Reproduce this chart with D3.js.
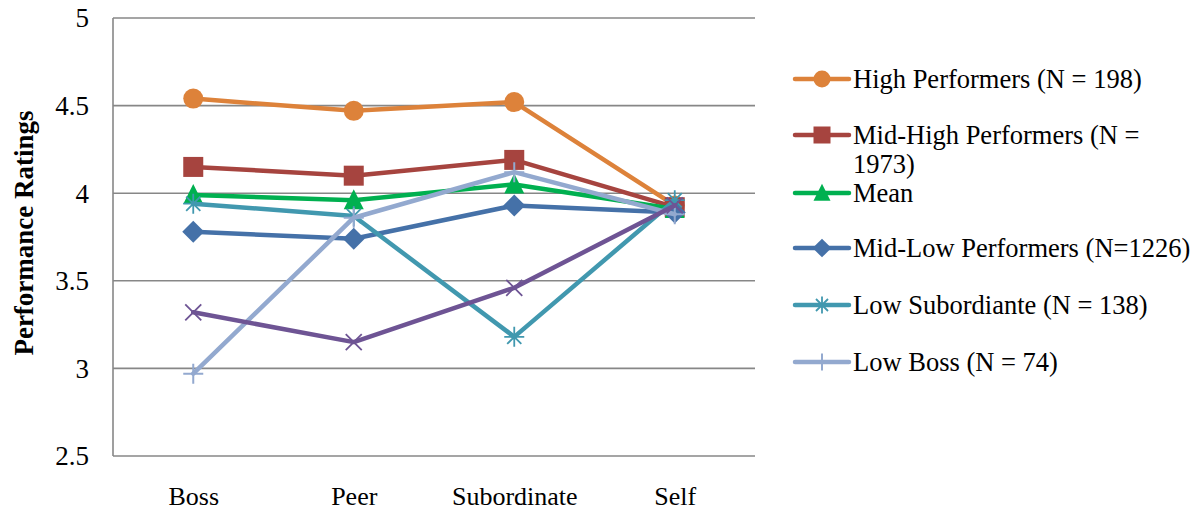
<!DOCTYPE html>
<html><head><meta charset="utf-8">
<script src="https://cdn.jsdelivr.net/npm/d3@7/dist/d3.min.js"></script>
<style>body{margin:0;background:#fff}svg{display:block}</style>
</head><body>
<svg id="c" width="1196" height="510"></svg>
<script>
const categories = ["Boss", "Peer", "Subordinate", "Self"];
const yTicks = [2.5, 3, 3.5, 4, 4.5, 5];
const highPerformers = [4.54, 4.47, 4.52, 3.93];
const midHighPerformers = [4.15, 4.10, 4.19, 3.92];
const meanValues = [3.99, 3.96, 4.05, 3.91];
const midLowPerformers = [3.78, 3.74, 3.93, 3.89];
const lowSubordinate = [3.94, 3.87, 3.18, 3.96];
const lowBoss = [2.97, 3.86, 4.12, 3.88];
const unlabeledSeries = [3.32, 3.15, 3.46, 3.93];

const series = [
  {name: "High Performers (N = 198)", lines: ["High Performers (N = 198)"], values: highPerformers, color: "#DD823A", marker: "circle", legend: true},
  {name: "Mid-High Performers (N = 1973)", lines: ["Mid-High Performers (N =", "1973)"], values: midHighPerformers, color: "#A6443F", marker: "square", legend: true},
  {name: "Mean", lines: ["Mean"], values: meanValues, color: "#00B050", marker: "triangle", legend: true},
  {name: "Mid-Low Performers (N=1226)", lines: ["Mid-Low Performers (N=1226)"], values: midLowPerformers, color: "#4571A8", marker: "diamond", legend: true},
  {name: "Low Subordiante (N = 138)", lines: ["Low Subordiante (N = 138)"], values: lowSubordinate, color: "#4198AF", marker: "star", legend: true},
  {name: "Low Boss (N = 74)", lines: ["Low Boss (N = 74)"], values: lowBoss, color: "#93A9CF", marker: "plus", legend: true},
  {name: "", lines: [], values: unlabeledSeries, color: "#6E5494", marker: "x", legend: false}
];

const svg = d3.select("#c");
const L = 113, R = 755, T = 18, B = 456;
const x = d3.scalePoint().domain(categories).range([L, R]).padding(0.5);
const y = d3.scaleLinear().domain([2.5, 5]).range([B, T]);
const font = "'Liberation Serif', 'Times New Roman', 'DejaVu Serif', serif";

// gridlines
svg.append("g").selectAll("line").data(yTicks).join("line")
  .attr("x1", L).attr("x2", R).attr("y1", d => y(d)).attr("y2", d => y(d))
  .attr("stroke", "#878787").attr("stroke-width", 1.6);
// left axis line
svg.append("line").attr("x1", L).attr("x2", L).attr("y1", T).attr("y2", B)
  .attr("stroke", "#878787").attr("stroke-width", 1.6);

// y axis labels
const yAxis = d3.axisLeft(y).tickValues(yTicks).tickSize(0).tickPadding(0).tickFormat(d3.format("~g"));
const ga = svg.append("g").attr("transform", `translate(${89},0)`).call(yAxis);
ga.select(".domain").remove();
ga.attr("font-family", null).attr("font-size", null);
ga.selectAll("text").style("font-family", font).style("font-size", "27px").attr("fill", "#000").attr("dy", "0.33em");

// x axis labels
const xAxis = d3.axisBottom(x).tickSize(0).tickPadding(0);
const gx = svg.append("g").attr("transform", `translate(0,${505})`).call(xAxis);
gx.select(".domain").remove();
gx.attr("font-family", null).attr("font-size", null);
gx.selectAll("text").style("font-family", font).style("font-size", "26px").attr("fill", "#000").attr("y", 0).attr("dy", "0");

// axis title
svg.append("text").attr("transform", `translate(33,${233}) rotate(-90)`)
  .attr("text-anchor", "middle").style("font-family", font).style("font-size", "27px")
  .attr("font-weight", "bold").text("Performance Ratings");

function drawMarker(g, type, color, cx, cy, s) {
  s = s || 1;
  if (type === "circle") g.append("circle").attr("cx", cx).attr("cy", cy).attr("r", 10*s).attr("fill", color);
  else if (type === "square") g.append("rect").attr("x", cx-10*s).attr("y", cy-10*s).attr("width", 20*s).attr("height", 20*s).attr("fill", color);
  else if (type === "triangle") g.append("path").attr("d", `M${cx},${cy-11*s}L${cx+10*s},${cy+9*s}L${cx-10*s},${cy+9*s}Z`).attr("fill", color);
  else if (type === "diamond") g.append("path").attr("d", `M${cx},${cy-11*s}L${cx+11*s},${cy}L${cx},${cy+11*s}L${cx-11*s},${cy}Z`).attr("fill", color);
  else if (type === "star") {
    const r = 10*s;
    const p = [];
    for (let i = 0; i < 4; i++) { const a = i*Math.PI/4; p.push(`M${cx-r*Math.cos(a)},${cy-r*Math.sin(a)}L${cx+r*Math.cos(a)},${cy+r*Math.sin(a)}`); }
    g.append("path").attr("d", p.join("")).attr("stroke", color).attr("stroke-width", 1.8).attr("fill", "none");
  } else if (type === "plus") {
    const r = 10*s;
    g.append("path").attr("d", `M${cx-r},${cy}L${cx+r},${cy}M${cx},${cy-r}L${cx},${cy+r}`).attr("stroke", color).attr("stroke-width", 2).attr("fill", "none");
  } else if (type === "x") {
    const r = 8*s;
    g.append("path").attr("d", `M${cx-r},${cy-r}L${cx+r},${cy+r}M${cx-r},${cy+r}L${cx+r},${cy-r}`).attr("stroke", color).attr("stroke-width", 1.8).attr("fill", "none");
  }
}

const line = d3.line().x((d, i) => x(categories[i])).y(d => y(d));
series.forEach(s => {
  const g = svg.append("g");
  g.append("path").attr("d", line(s.values)).attr("fill", "none").attr("stroke", s.color)
    .attr("stroke-width", 4.5).attr("stroke-linejoin", "round").attr("stroke-linecap", "round");
  s.values.forEach((v, i) => drawMarker(g, s.marker, s.color, x(categories[i]), y(v)));
});

// legend
const legendY = [79, 135, 193, 248, 305, 362];
const lg = svg.append("g");
series.filter(s => s.legend).forEach((s, i) => {
  const cy = legendY[i];
  lg.append("line").attr("x1", 795).attr("x2", 849).attr("y1", cy).attr("y2", cy)
    .attr("stroke", s.color).attr("stroke-width", 4.5).attr("stroke-linecap", "round");
  drawMarker(lg, s.marker, s.color, 822, cy, 0.85);
  s.lines.forEach((t, j) => {
    lg.append("text").attr("x", 853).attr("y", cy + 9 + j*29)
      .style("font-family", font).style("font-size", "26.5px").attr("fill", "#000").text(t);
  });
});
</script>
</body></html>
